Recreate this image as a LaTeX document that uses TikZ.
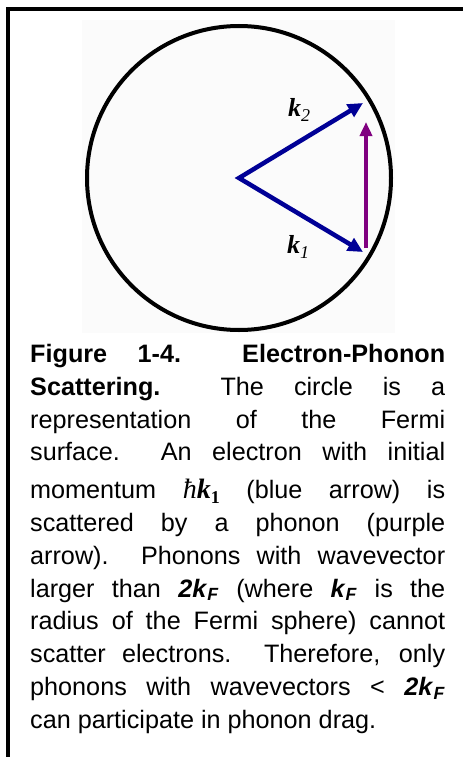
\documentclass[tikz,border=0pt]{standalone}
\usepackage{fontspec}
\setmainfont{Liberation Sans}
\newfontfamily\kfont{Liberation Serif}
\usetikzlibrary{arrows.meta}
\definecolor{kblue}{RGB}{0,0,150}
\definecolor{qpurple}{RGB}{128,0,128}
\newcommand{\fermik}[1]{\textbf{\textit{#1k}}\textsubscript{\textbf{\textit{F}}}}
\newcommand{\hbark}{{\kfont\fontsize{28}{28}\selectfont\itshape ħ\textbf{k}\raisebox{-5pt}{\upshape\bfseries\fontsize{18}{18}\selectfont 1}}}
\tikzset{
  wavevec/.style={line width=4.5pt, color=kblue, {Triangle[length=15pt,width=14pt]}-{Triangle[length=15pt,width=14pt]}},
  phononvec/.style={line width=4pt, color=qpurple, -{Triangle[length=14pt,width=12pt]}},
  klabel/.style={font=\kfont\fontsize{26}{26}\selectfont, inner sep=0pt},
  caption/.style={anchor=north west, inner sep=0pt, text width=415pt, align=justify, font=\fontsize{25.2}{32.8}\selectfont}
}
\begin{document}
\begin{tikzpicture}[x=1pt, y=-1pt]
    \useasboundingbox (0,0) rectangle (463,757);
    % frame and picture background
    \draw[line width=4pt] (8,757) -- (8,9) -- (463,9);
    \fill[black!1.5] (82,20) rectangle (395,333);
    % Fermi surface
    \coordinate (O) at (239,178);
    \draw[line width=4pt] (O) circle[radius=152];
    \coordinate (k2tip) at (363,103);
    \coordinate (k1tip) at (363,252);
    \coordinate (qfoot) at (366,248);
    \coordinate (qtip) at (366,122);
    \draw[wavevec] (k2tip) -- (O) -- (k1tip);
    \draw[phononvec] (qfoot) -- (qtip);
    \node (k2) [klabel] at (299,110) {\textbf{\textit{k}}\raisebox{-5pt}{\itshape\fontsize{18}{18}\selectfont 2}};
    \node (k1) [klabel] at (298,247) {\textbf{\textit{k}}\raisebox{-5pt}{\itshape\fontsize{18}{18}\selectfont 1}};
    % caption
    \node (cap) [caption] at (30,344) {%
\textbf{Figure 1-4.\ \ Electron-Phonon}\linebreak
\textbf{Scattering.}\ \ The circle is a\linebreak
representation of the Fermi\linebreak
surface.\ \ An electron with initial\vadjust{\vskip 5pt}\linebreak
momentum \hbark\ (blue arrow) is\linebreak
scattered by a phonon (purple\linebreak
arrow).\ \ Phonons with wavevector\linebreak
larger than \fermik{2} (where \fermik{} is the\linebreak
radius of the Fermi sphere) cannot\linebreak
scatter electrons.\ \ Therefore, only\linebreak
phonons with wavevectors < \fermik{2}\linebreak
can participate in phonon drag.};
\end{tikzpicture}
\end{document}
